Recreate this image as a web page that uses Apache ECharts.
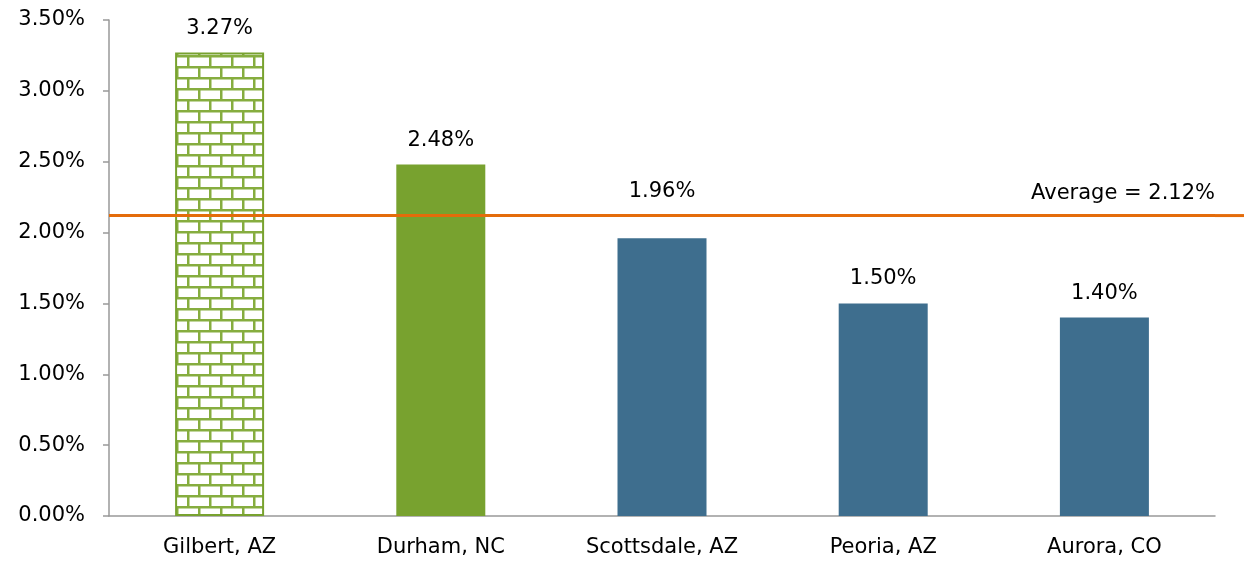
<!DOCTYPE html>
<html><head><meta charset="utf-8">
<script src="https://cdn.jsdelivr.net/npm/echarts@6/dist/echarts.min.js"></script>
<style>html,body{margin:0;padding:0;background:#fff}#c{width:1244px;height:563px}</style>
</head><body><div id="c"></div>
<script>
const categories = ['Gilbert, AZ', 'Durham, NC', 'Scottsdale, AZ', 'Peoria, AZ', 'Aurora, CO'];
const values = [3.27, 2.48, 1.96, 1.50, 1.40];
const averageValue = 2.12;
const yTicks = [0, 0.5, 1, 1.5, 2, 2.5, 3, 3.5];

const GREEN = '#78a22f', BLUE = '#3e6e8e', ORANGE = '#e46c0a';

function brickPattern() {
  const c = document.createElement('canvas');
  c.width = 22; c.height = 22;
  const g = c.getContext('2d');
  g.fillStyle = '#fff'; g.fillRect(0, 0, 22, 22);
  g.fillStyle = '#86ad3f';
  g.fillRect(0, 0, 22, 2.5);
  g.fillRect(0, 11, 22, 2.5);
  g.fillRect(0, 0, 2.5, 11);
  g.fillRect(11, 11, 2.5, 11);
  return c;
}

const styles = [
  { color: { image: brickPattern(), repeat: 'repeat' }, borderColor: GREEN, borderWidth: 2 },
  { color: GREEN },
  { color: BLUE }, { color: BLUE }, { color: BLUE }
];

const font = "'DejaVu Sans', sans-serif";
const FS = 21;
const chart = echarts.init(document.getElementById('c'));
chart.setOption({
  animation: false,
  grid: { left: 109, right: 29, top: 20, bottom: 47 },
  xAxis: {
    type: 'category', data: categories,
    axisLine: { lineStyle: { color: '#999', width: 1.5 } },
    axisTick: { length: 6, lineStyle: { color: '#999', width: 1.5 } },
    axisLabel: { color: '#000', fontSize: FS, fontFamily: font, margin: 21 }
  },
  yAxis: {
    type: 'value', min: yTicks[0], max: yTicks[yTicks.length - 1], interval: 0.5,
    splitLine: { show: false },
    axisLine: { show: true, lineStyle: { color: '#999', width: 1.5 } },
    axisTick: { show: true, length: 6, lineStyle: { color: '#999', width: 1.5 } },
    axisLabel: { color: '#000', fontSize: FS, fontFamily: font, margin: 24,
      formatter: v => v.toFixed(2) + '%' }
  },
  series: [{
    type: 'bar', barWidth: 89,
    data: values.map((v, i) => ({ value: v, itemStyle: styles[i],
      label: i === 2 ? { distance: 36 } : undefined })),
    label: { show: true, position: 'top', distance: 14, color: '#000', fontSize: FS, fontFamily: font,
      formatter: p => p.value.toFixed(2) + '%' },
    markLine: {
      silent: true, symbol: 'none',
      lineStyle: { color: ORANGE, width: 3, type: 'solid' },
      label: { position: 'insideEndTop', color: '#000', fontSize: FS, fontFamily: font, distance: [0, 12],
        formatter: () => 'Average = ' + averageValue.toFixed(2) + '%' },
      data: [{ yAxis: averageValue }]
    }
  }]
});
const y = chart.convertToPixel({ yAxisIndex: 0 }, averageValue);
const xEnd = chart.getWidth() - 29;
chart.setOption({ graphic: [{ type: 'line', shape: { x1: xEnd, y1: y, x2: chart.getWidth(), y2: y },
  style: { stroke: ORANGE, lineWidth: 3 }, silent: true }] });
</script></body></html>
